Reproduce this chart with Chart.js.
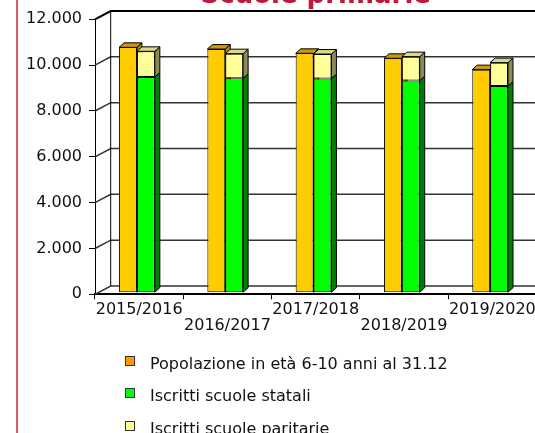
<!DOCTYPE html>
<html lang="it">
<head>
<meta charset="utf-8">
<title>Scuole primarie</title>
<script src="https://cdn.jsdelivr.net/npm/chart.js@4.4.1/dist/chart.umd.min.js"></script>
<style>
  html, body { margin: 0; padding: 0; background: #fff; }
  #page { position: relative; width: 535px; height: 433px; overflow: hidden; font-family: "DejaVu Sans", Verdana, sans-serif; }
  #wrap { position: absolute; left: 0; top: -30px; width: 539px; height: 380px; }
  #bordo { position: absolute; left: 16px; top: 0; width: 2px; height: 433px; background: #d65a68; }
  #legend { position: absolute; left: 0; top: 0; width: 535px; height: 433px; }
</style>
</head>
<body>
<div id="page">
  <div id="wrap"><canvas id="chart" width="539" height="380"></canvas></div>
  <div id="bordo"></div>
  <div id="legend"></div>
</div>
<script>
const categories = ['2015/2016', '2016/2017', '2017/2018', '2018/2019', '2019/2020'];
const seriesNames = [
  'Popolazione in età 6-10 anni al 31.12',
  'Iscritti scuole statali',
  'Iscritti scuole paritarie'
];
const popolazione = [10706, 10632, 10444, 10227, 9734];
const statali = [9412, 9355, 9342, 9255, 9020];
const paritarie = [1120, 1076, 1072, 1046, 1019];
const yMax = 12000;
const yStep = 2000;

// Farben: Vorderseite, Seite, Deckel, Legende
const frontColors = ['#FFCC00', '#00FF00', '#FFFF99'];
const sideColors = ['#B38F00', '#008000', '#8A8A55'];
const topColors = ['#CC9900', '#00B000', '#D8D88A'];
const legendColors = ['#FF9900', '#00FF00', '#FFFF99'];
const topFace = [true, false, true];

const FONT = '"DejaVu Sans", Verdana, sans-serif';

// 3D-Versatz
const WALL_DX = 15.7, WALL_DY = -8.3;
const BAR_DX = -2.2, BAR_DY = -1.6;
const DEPTH_DX = 5, DEPTH_DY = -4.5;

function formatIt(v) {
  return String(v).replace(/\B(?=(\d{3})+(?!\d))/g, '.');
}

function poly(ctx, pts, fill) {
  ctx.beginPath();
  ctx.moveTo(pts[0][0], pts[0][1]);
  for (let k = 1; k < pts.length; k++) ctx.lineTo(pts[k][0], pts[k][1]);
  ctx.closePath();
  ctx.fillStyle = fill;
  ctx.fill();
  ctx.stroke();
}

const box3d = {
  id: 'box3d',
  beforeDatasetsDraw(chart) {
    const ctx = chart.ctx;
    const area = chart.chartArea;
    const yScale = chart.scales.y;

    // Rückwand + linke Seitenwand
    ctx.save();
    yScale.ticks.forEach(t => {
      const y = yScale.getPixelForValue(t.value);
      ctx.beginPath();
      ctx.moveTo(area.left, y);
      ctx.lineTo(area.left + WALL_DX, y + WALL_DY);
      ctx.lineTo(area.right, y + WALL_DY);
      ctx.lineWidth = t.value === yMax ? 2 : 1.5;
      ctx.strokeStyle = t.value === yMax ? '#000' : '#333';
      ctx.stroke();
    });
    ctx.beginPath();
    ctx.strokeStyle = '#000';
    ctx.lineWidth = 1;
    ctx.moveTo(area.left + WALL_DX, area.top + WALL_DY);
    ctx.lineTo(area.left + WALL_DX, area.bottom + WALL_DY);
    ctx.stroke();
    ctx.restore();

    // Balken etwas nach hinten schieben, Seiten und Deckel zeichnen
    ctx.save();
    ctx.translate(BAR_DX, BAR_DY);
    ctx.strokeStyle = '#000';
    ctx.lineWidth = 1;
    ctx.lineJoin = 'round';
    chart.data.datasets.forEach((ds, i) => {
      const meta = chart.getDatasetMeta(i);
      meta.data.forEach(bar => {
        const l = bar.x - bar.width / 2;
        const r = bar.x + bar.width / 2;
        poly(ctx, [[r, bar.y], [r + DEPTH_DX, bar.y + DEPTH_DY],
                   [r + DEPTH_DX, bar.base + DEPTH_DY], [r, bar.base]], sideColors[i]);
        if (topFace[i]) {
          poly(ctx, [[l, bar.y], [l + DEPTH_DX, bar.y + DEPTH_DY],
                     [r + DEPTH_DX, bar.y + DEPTH_DY], [r, bar.y]], topColors[i]);
        }
      });
    });
  },
  afterDatasetsDraw(chart) {
    chart.ctx.restore();
  }
};

Chart.defaults.font.family = FONT;

const chart = new Chart(document.getElementById('chart'), {
  type: 'bar',
  data: {
    labels: categories,
    datasets: [
      { label: seriesNames[0], data: popolazione, stack: 'pop' },
      { label: seriesNames[1], data: statali, stack: 'iscritti' },
      { label: seriesNames[2], data: paritarie, stack: 'iscritti' }
    ].map((ds, i) => Object.assign(ds, {
      backgroundColor: frontColors[i],
      borderColor: '#000',
      borderWidth: 1,
      borderSkipped: false,
      categoryPercentage: 0.405,
      barPercentage: 1
    }))
  },
  options: {
    responsive: false,
    animation: false,
    layout: { padding: 0 },
    plugins: {
      legend: { display: false },
      tooltip: { enabled: false },
      title: {
        display: true,
        text: 'Scuole primarie',
        color: '#C0183C',
        fullSize: false,
        font: { family: FONT, size: 26, weight: 'bold', lineHeight: 1.2 },
        padding: { top: 10.5, bottom: 7.6 }
      }
    },
    scales: {
      x: {
        stacked: true,
        ticks: {
          autoSkip: false,
          maxRotation: 0,
          minRotation: 0,
          padding: 3,
          color: '#111',
          font: { size: 16, lineHeight: 1 },
          callback: (v, i) => i % 2 ? ['', categories[i]] : categories[i]
        },
        grid: { drawOnChartArea: false, tickLength: 5, color: '#000', offset: true },
        border: { color: '#000', width: 2 },
        afterFit: s => { s.height = 55.7; }
      },
      y: {
        stacked: true,
        min: 0,
        max: yMax,
        ticks: {
          stepSize: yStep,
          padding: 7,
          color: '#111',
          font: { size: 16 },
          callback: v => formatIt(v)
        },
        grid: { drawOnChartArea: false, tickLength: 6, color: '#000' },
        border: { color: '#000', width: 1 },
        afterFit: s => { s.width = 95; }
      }
    }
  },
  plugins: [box3d]
});

// Legende untereinander
const legend = document.getElementById('legend');
chart.data.datasets.forEach((ds, i) => {
  const rowTop = 353.7 + i * 32.4;

  const box = document.createElement('div');
  box.style.position = 'absolute';
  box.style.left = '125px';
  box.style.top = (rowTop + 2) + 'px';
  box.style.width = '8px';
  box.style.height = '8px';
  box.style.border = '1px solid #333';
  box.style.background = legendColors[i];
  legend.appendChild(box);

  const txt = document.createElement('div');
  txt.textContent = ds.label;
  txt.style.position = 'absolute';
  txt.style.left = '150px';
  txt.style.top = rowTop + 'px';
  txt.style.lineHeight = '20px';
  txt.style.fontSize = '16px';
  txt.style.color = '#111';
  txt.style.whiteSpace = 'nowrap';
  legend.appendChild(txt);
});
</script>
</body>
</html>
